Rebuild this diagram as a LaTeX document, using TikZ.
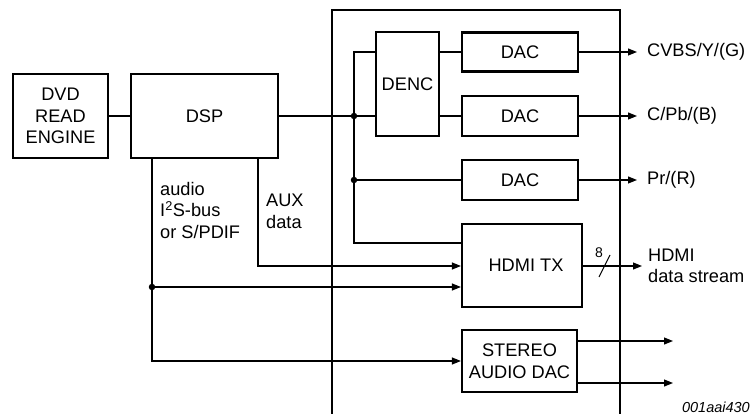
\documentclass[tikz,border=0pt]{standalone}
\usepackage{fontspec}
\setmainfont{Liberation Sans}
\usetikzlibrary{arrows.meta}

\tikzset{
  blk/.style={draw, line width=2.2pt, inner sep=0pt, align=center,
    font=\fontsize{18.2}{21.5}\selectfont},
  wire/.style={line width=1.1pt},
  sig/.style={wire, -{Triangle[length=9pt,width=7pt]}},
  lbl/.style={inner sep=0pt, align=left, font=\fontsize{18.2}{21.5}\selectfont},
  outl/.style={lbl, anchor=west, inner xsep=10pt},
  dot/.style={circle, fill, inner sep=0pt, minimum size=6.5pt},
}

\begin{document}
\begin{tikzpicture}[x=1pt, y=-1pt]
  \useasboundingbox (0,0) rectangle (752,414);
  % IC outline, runs off the bottom
  \draw[line width=2.2pt] (332,420) -- (332,10) -- (620,10) -- (620,420);
  % Blocks
  \node[blk, minimum width=95pt, minimum height=84pt] (dvd) at (60.5,116) {DVD\\READ\\ENGINE};
  \node[blk, minimum width=147pt, minimum height=84pt] (dsp) at (204.5,116) {DSP};
  \node[blk, minimum width=63pt, minimum height=104pt] (denc) at (407.5,84) {DENC};
  \node[blk, minimum width=116pt, minimum height=39pt] (dacA) at (520,52) {DAC};
  \node[blk, minimum width=116pt, minimum height=40pt] (dacB) at (520,116) {DAC};
  \node[blk, minimum width=116pt, minimum height=40pt] (dacC) at (520,180) {DAC};
  \node[blk, minimum width=120pt, minimum height=83pt] (hdmi) at (522,265.5) {\hspace{8pt}HDMI TX};
  \node[blk, minimum width=115pt, minimum height=62pt] (stereo) at (519.5,361) {STEREO\\AUDIO DAC};
  % Junctions
  \node[dot] (jvid) at (354,116) {};
  \node[dot] (jpr) at (354,180) {};
  \node[dot] (jaud) at (152,287) {};
  \coordinate (vtop) at (354,52);
  \coordinate (vbot) at (354,243);
  \coordinate (auxx) at (258,266);
  % Video path
  \draw[wire] (dvd) -- (dsp);
  \draw[wire] (dsp) -- (jvid) -- (denc.west |- jvid);
  \draw[wire] (denc.west |- vtop) -- (vtop) -- (vbot) -- (hdmi.west |- vbot);
  \draw[wire] (jpr) -- (dacC);
  \draw[wire] (denc.east |- dacA) -- (dacA);
  \draw[wire] (denc.east |- dacB) -- (dacB);
  % Audio and aux paths
  \draw[wire] (dsp.south -| jaud) -- (jaud);
  \draw[sig] (jaud) -- (hdmi.west |- jaud);
  \draw[sig] (jaud) -- (jaud |- stereo) -- (stereo);
  \draw[sig] (dsp.south -| auxx) -- (auxx) -- (hdmi.west |- auxx);
  \node[lbl, anchor=north west] (audl) at (160,182) {audio\\I\textsuperscript{2}S-bus\\or S/PDIF};
  \node[lbl, anchor=north west] (auxl) at (266,194) {AUX\\data};
  % Outputs
  \node[outl] (cvbs) at (637,52) {CVBS/Y/(G)};
  \node[outl] (cpb) at (637,116) {C/Pb/(B)};
  \node[outl] (pr) at (637,180) {Pr/(R)};
  \node[outl, inner xsep=6pt] (hdout) at (642,266) {HDMI\\data stream};
  \draw[sig] (dacA) -- (cvbs.west);
  \draw[sig] (dacB) -- (cpb.west);
  \draw[sig] (dacC) -- (pr.west);
  \draw[sig] (hdmi.east |- hdout) -- (hdout.west);
  \coordinate (soutA) at (673,341);
  \coordinate (soutB) at (673,383);
  \draw[sig] (stereo.east |- soutA) -- (soutA);
  \draw[sig] (stereo.east |- soutB) -- (soutB);
  % Bus width mark
  \draw[wire] (599,277) -- (610,255);
  \node[inner sep=0pt, font=\fontsize{14}{16}\selectfont] (bw) at (599,253) {8};
  \node[inner sep=0pt, anchor=base east, font=\itshape\fontsize{14.5}{17}\selectfont] (ref) at (750,412) {001aai430};
\end{tikzpicture}
\end{document}
